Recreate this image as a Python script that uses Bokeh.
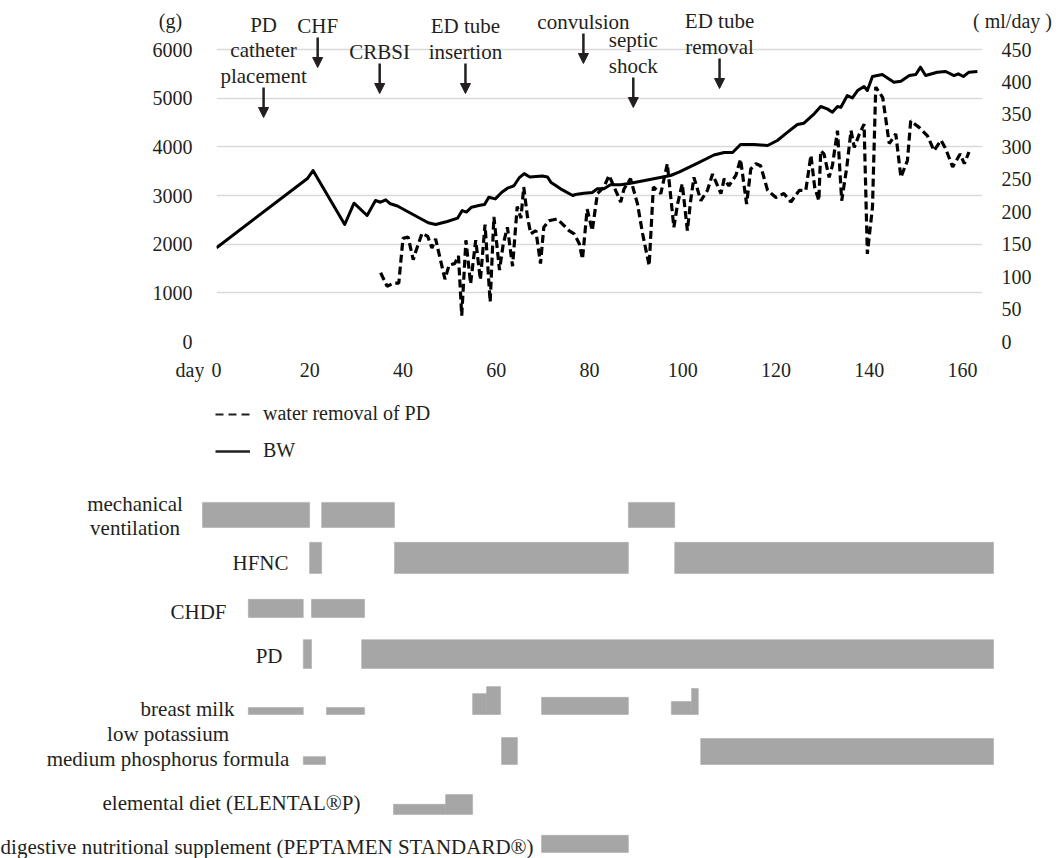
from bokeh.plotting import figure
from bokeh.models import (Range1d, LinearAxis, FixedTicker, Label, Arrow, NormalHead,
                          Legend, LegendItem, ColumnDataSource)
from bokeh.embed import file_html
from bokeh.resources import INLINE
from bokeh.core.properties import value

FONT = "Liberation Serif"
INK = "#231f20"
GRID = "#d9d9d9"
BAR = "#a6a6a6"

# ---------------- data ----------------
bw_day = [0, 19.5, 20.7, 27.5, 29.5, 32.3, 34.1, 35.2, 36.3, 37.3, 38.8, 45.4, 47.0, 49.5,
          51.7, 52.7, 53.6, 54.7, 56.5, 57.5, 58.4, 59.8, 61.2, 62.4, 63.8, 64.9, 66.0, 67.2,
          69.9, 71.0, 71.7, 73.8, 76.4, 77.0, 78.8, 80.6, 81.7, 83.1, 84.5, 86.7, 88.8, 93.8,
          97.4, 99.2, 103.2, 106.7, 108.9, 110.7, 112.4, 115.3, 118.2, 120.3, 122.5, 124.6,
          126.0, 128.2, 129.6, 131.0, 132.1, 133.2, 133.9, 135.3, 136.4, 137.5, 138.9, 139.6,
          140.7, 142.8, 145.3, 146.8, 148.6, 150.0, 151.0, 152.1, 154.6, 156.4, 158.2, 159.1,
          160.2, 161.4, 163.2]
bw_g = [1925, 3349, 3513, 2404, 2842, 2589, 2897, 2862, 2911, 2830, 2785, 2440, 2404, 2465,
        2534, 2691, 2660, 2760, 2800, 2815, 2965, 2930, 3068, 3150, 3200, 3360, 3450, 3380,
        3400, 3380, 3274, 3137, 3000, 3020, 3048, 3060, 3137, 3137, 3220, 3220, 3253, 3343,
        3411, 3480, 3667, 3832, 3884, 3884, 4048, 4048, 4027, 4130, 4301, 4459,
        4486, 4679, 4829, 4780, 4711, 4829, 4810, 5054, 5006, 5157, 5239, 5157,
        5445, 5486, 5328, 5349, 5465, 5486, 5637, 5465, 5534, 5548, 5465, 5500,
        5445, 5534, 5548]

pd_day = [35.2, 36.6, 38.0, 39.1, 40.0, 41.1, 42.2, 42.8, 44.1, 45.3, 46.2, 47.0, 49.0, 49.9,
          51.1, 51.9, 52.6, 53.5, 54.5, 55.6, 56.6, 57.6, 58.7, 59.5, 60.7, 61.5, 62.4, 63.5,
          64.5, 65.3, 65.9, 66.7, 67.4, 68.5, 69.5, 70.2, 71.3, 73.1, 75.6, 76.7, 77.8, 78.5,
          79.5, 80.6, 81.7, 83.1, 84.2, 85.6, 86.7, 87.4, 88.8, 90.3, 91.4, 92.8, 93.7, 95.3,
          96.7, 98.1, 98.9, 99.9, 101.0, 101.7, 102.4, 103.9, 105.3, 106.4, 108.2, 108.9,
          109.9, 111.4, 112.4, 113.7, 114.6, 115.7, 116.7, 118.2, 120.0, 121.7, 123.2, 125.0,
          126.4, 127.5, 128.3, 129.2, 129.6, 130.3, 131.4, 132.1, 133.2, 134.1, 135.2, 136.1,
          136.8, 137.9, 138.9, 139.6, 140.7, 141.4, 142.9, 144.3, 145.7, 146.8, 148.2, 148.9,
          150.7, 152.5, 153.9, 155.4, 156.4, 157.9, 159.5, 160.4, 161.4, 163.2]
pd_ml = [106, 85, 90, 90, 159, 161, 126, 140, 167, 162, 144, 158, 96, 118,
         120, 132, 40, 156, 89, 156, 95, 180, 61, 192, 110, 150, 176, 116,
         208, 190, 238, 192, 166, 171, 120, 176, 186, 189, 171, 166, 151, 127,
         204, 171, 228, 238, 256, 233, 215, 235, 251, 212, 166, 117, 238,
         228, 274, 176, 212, 243, 171, 217, 253, 217, 233, 258, 228,
         251, 240, 256, 281, 212, 266, 274, 271, 233, 222, 228, 215,
         233, 233, 287, 238, 217, 294, 289, 253, 271, 325, 217, 269,
         325, 299, 320, 335, 135, 207, 392, 376, 305, 320, 253, 279,
         340, 330, 317, 294, 310, 297, 269, 289, 274, 292]

events = ["PD\ncatheter\nplacement", "CHF", "CRBSI", "ED tube\ninsertion",
          "convulsion", "septic\nshock", "ED tube\nremoval"]
event_day = [10.1, 21.7, 35.0, 53.4, 78.7, 89.4, 107.9]

day_ticks = [0, 20, 40, 60, 80, 100, 120, 140, 160]
g_ticks = [0, 1000, 2000, 3000, 4000, 5000, 6000]
ml_ticks = [0, 50, 100, 150, 200, 250, 300, 350, 400, 450]

therapies = ["mechanical\nventilation", "HFNC", "CHDF", "PD", "breast milk",
             "low potassium\nmedium phosphorus formula", "elemental diet (ELENTAL®P)",
             "digestive nutritional supplement (PEPTAMEN STANDARD®)"]
seg_row = [0, 0, 0,
           1, 1, 1,
           2, 2,
           3, 3,
           4, 4, 4, 4, 4, 4, 4,
           5, 5, 5,
           6, 6,
           7]
seg_start = [0.0, 24.7, 88.3,
             22.2, 39.8, 97.9,
             9.5, 22.6,
             20.9, 33.0,
             9.5, 25.7, 56.0, 58.9, 70.3, 97.2, 101.4,
             20.9, 62.0, 103.3,
             39.6, 50.4,
             70.3]
seg_end = [22.2, 39.8, 97.9,
           24.7, 88.3, 164.0,
           20.9, 33.6,
           22.6, 164.0,
           20.9, 33.6, 58.9, 61.8, 88.3, 101.4, 102.8,
           25.5, 65.3, 164.0,
           50.4, 56.0,
           88.3]
seg_level = [0.54, 0.54, 0.54,
             0.67, 0.67, 0.67,
             0.39, 0.39,
             0.62, 0.62,
             0.15, 0.15, 0.45, 0.60, 0.37, 0.28, 0.56,
             0.17, 0.58, 0.56,
             0.22, 0.43,
             0.37]

# ---------------- top chart ----------------
W = 1060
H1 = 390
FRAME_H = 341
G_MAX = 7007
GPX = G_MAX / FRAME_H          # grams per screen pixel
ML_MAX = G_MAX * 450 / 6000

p = figure(width=W, height=H1, title=None, output_backend="svg", toolbar_location=None,
           x_range=Range1d(0, 164.3), y_range=Range1d(0, G_MAX),
           min_border_left=216, min_border_right=78, min_border_top=0,
           min_border_bottom=H1 - FRAME_H)
p.extra_y_ranges = {"ml": Range1d(0, ML_MAX)}
p.outline_line_color = None
p.xgrid.visible = False
p.ygrid.ticker = FixedTicker(ticks=g_ticks)
p.ygrid.grid_line_color = GRID
p.ygrid.grid_line_width = 1.5

left_ax = p.left[0]
left_ax.ticker = FixedTicker(ticks=g_ticks)
bottom_ax = p.below[0]
bottom_ax.ticker = FixedTicker(ticks=day_ticks)
right_ax = LinearAxis(y_range_name="ml", ticker=FixedTicker(ticks=ml_ticks))
p.add_layout(right_ax, "right")
for ax in (left_ax, bottom_ax, right_ax):
    ax.axis_line_color = None
    ax.major_tick_line_color = None
    ax.minor_tick_line_color = None
    ax.major_label_text_font = FONT
    ax.major_label_text_font_size = "20px"
    ax.major_label_text_color = INK
left_ax.major_label_standoff = 18
right_ax.major_label_standoff = 13
bottom_ax.major_label_standoff = 15

p.line(bw_day, bw_g, line_width=3, line_color="black", line_join="round")
p.line(pd_day, pd_ml, y_range_name="ml", line_width=3.2, line_color="black",
       line_dash="8 4")

# event annotations: arrow tip positions (px below the frame top) and text lines above
arrow_tip_px = [117, 67, 93, 93, 63, 107, 88]
ARROW_LEN = 30
LINE_GAP = 12
LINE_STEP = 25.5
tx, ty, tt = [], [], []
for name, d, tip in zip(events, event_day, arrow_tip_px):
    tip_g = G_MAX - tip * GPX
    top_g = tip_g + ARROW_LEN * GPX
    p.add_layout(Arrow(end=NormalHead(size=10, fill_color=INK, line_color=INK, line_width=1),
                       x_start=d, y_start=top_g, x_end=d, y_end=tip_g,
                       line_width=2.5, line_color=INK))
    lines = name.split("\n")
    n = len(lines)
    for j, ln in enumerate(lines):
        tx.append(d)
        ty.append(top_g + (LINE_GAP + (n - 1 - j) * LINE_STEP) * GPX)
        tt.append(ln)
p.text(x=tx, y=ty, text=tt, text_font=value(FONT), text_font_size=value("21px"),
       text_align="center", text_baseline="middle", text_color=INK)


def overlay_text(txt, left, top, w, h, align):
    """Small transparent figure placed over the page to hold a text lying outside frames."""
    f = figure(width=w, height=h, title=None, output_backend="svg", toolbar_location=None,
               x_range=Range1d(0, 1), y_range=Range1d(0, 1),
               x_axis_type=None, y_axis_type=None, min_border=0,
               styles={"position": "absolute", "left": f"{left}px", "top": f"{top}px"})
    f.outline_line_color = None
    f.background_fill_alpha = 0
    f.border_fill_alpha = 0
    xpos = {"left": 0.0, "center": 0.5, "right": 1.0}[align]
    f.text(x=[xpos], y=[0.5], text=[txt], text_font=value(FONT),
           text_font_size=value("20px"), text_align=align, text_baseline="middle",
           text_color=INK)
    return f


ov_g = overlay_text("(g)", 145, 6, 50, 28, "center")
ov_ml = overlay_text("( ml/day )", 962, 6, 100, 28, "center")
ov_day = overlay_text("day", 159, 355, 45, 28, "right")

# ---------------- therapy timeline ----------------
H2 = 858 - H1
ROW_PX = 46.5
BASE0_PX = 527          # page y of the first row's baseline
X0_PX = 202             # page x of day 0 in the timeline
PX_PER_DAY = 791 / 164
row_base = [0.0, 0.989, 1.935, 3.032, 4.022, 5.097, 6.172, 6.989]

g = figure(width=W, height=H2, title=None, output_backend="svg", toolbar_location=None,
           x_range=Range1d(-X0_PX / PX_PER_DAY, (W - X0_PX) / PX_PER_DAY),
           y_range=Range1d((858 - BASE0_PX) / ROW_PX, (H1 - BASE0_PX) / ROW_PX),
           x_axis_type=None, y_axis_type=None,
           min_border_left=0, min_border_right=0, min_border_top=0, min_border_bottom=0)
g.outline_line_color = None

src = ColumnDataSource(dict(
    left=seg_start, right=seg_end,
    bottom=[row_base[r] for r in seg_row],
    top=[row_base[r] - lv for r, lv in zip(seg_row, seg_level)]))
g.quad(left="left", right="right", bottom="bottom", top="top", source=src,
       fill_color=BAR, line_color=BAR, line_width=0.5)

# row labels: (line text, row, anchor page-x, align, dy px from row baseline)
t0 = therapies[0].split("\n")
t5 = therapies[5].split("\n")
label_specs = [(t0[0], 0, 134.5, "center", -24), (t0[1], 0, 134.5, "center", 0),
               (therapies[1], 1, 288, "right", -10),
               (therapies[2], 2, 226, "right", -5),
               (therapies[3], 3, 282, "right", -12),
               (therapies[4], 4, 234, "right", -6),
               (t5[0], 5, 167.5, "center", -31), (t5[1], 5, 167.5, "center", -6),
               (therapies[6], 6, 360, "right", -11),
               (therapies[7], 7, 533, "right", -5)]
for txt, r, xpx, al, dy in label_specs:
    g.add_layout(Label(x=(xpx - X0_PX) / PX_PER_DAY, y=row_base[r] + dy / ROW_PX, text=txt,
                       text_font=FONT, text_font_size="21px", text_color=INK,
                       text_align=al, text_baseline="middle"))

# legend for the upper chart's two series (hidden stand-in renderers carry the styles)
r_dash = g.line(pd_day, pd_ml, line_dash="8 5", line_width=2, line_color=INK, visible=False)
r_solid = g.line(bw_day, bw_g, line_width=2.5, line_color=INK, visible=False)
legend = Legend(items=[LegendItem(label="water removal of PD", renderers=[r_dash]),
                       LegendItem(label="BW", renderers=[r_solid])],
                location=(215, H2 - 72), margin=0, padding=8, spacing=14,
                glyph_width=35, glyph_height=20, label_height=20, label_standoff=13,
                label_text_font=FONT, label_text_font_size="20px", label_text_color=INK,
                border_line_color=None, background_fill_alpha=0, inactive_fill_alpha=0)
g.add_layout(legend)

open("out.html", "w").write(file_html([p, g, ov_g, ov_ml, ov_day], INLINE))
